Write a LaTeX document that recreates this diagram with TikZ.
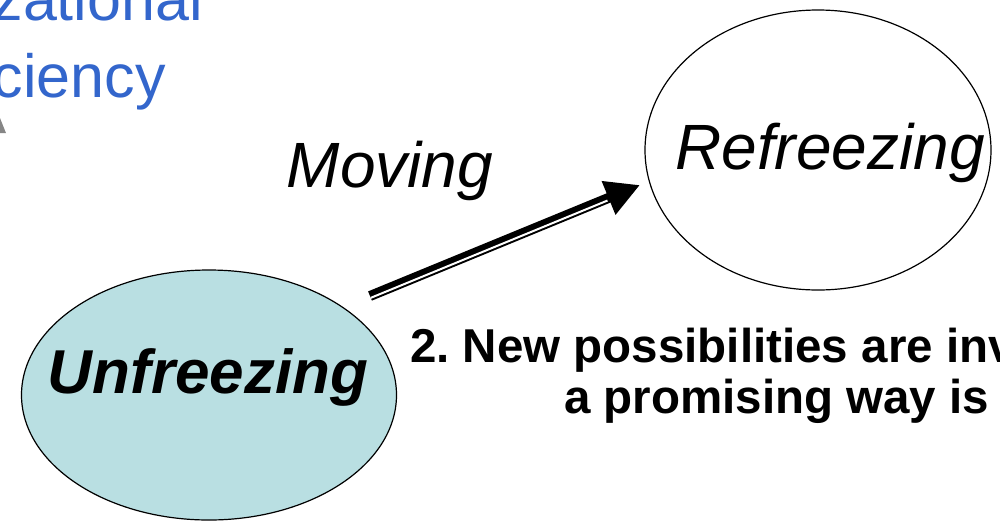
\documentclass[tikz,border=0pt]{standalone}
\usepackage{fontspec}
\setmainfont{Liberation Sans}
\usetikzlibrary{shapes.geometric,arrows.meta}
\definecolor{iceblue}{RGB}{185,223,226}
\definecolor{titleblue}{RGB}{51,102,204}
\tikzset{
  stage/.style={ellipse, draw=black, line width=1.2pt, inner sep=0pt},
  bigit/.style={font=\fontsize{64}{64}\selectfont\itshape, inner sep=0pt},
  bigbi/.style={font=\fontsize{62}{62}\selectfont\bfseries\itshape, inner sep=0pt},
  note/.style={font=\fontsize{47.5}{47.5}\selectfont\bfseries\frenchspacing, inner sep=0pt},
  title/.style={font=\fontsize{61}{61}\selectfont, text=titleblue, inner sep=0pt},
}
\begin{document}
\begin{tikzpicture}[x=1pt,y=-1pt]
\useasboundingbox (0,0) rectangle (1000,520);
\clip (0,0) rectangle (1000,520);
% title fragment
\node[title, anchor=base east] (t1) at (203,20) {zational};
\node[title, anchor=base east] (t2) at (166,97) {ciency};
\fill[gray!95] (0,118) -- (6,133) -- (0,133) -- cycle;
% stages
\node[stage, fill=iceblue, minimum width=375pt, minimum height=250pt] (U) at (209,395) {};
\node[bigbi, anchor=base] (Ut) at (208,393) {Unfreezing};
\node[stage, fill=white, minimum width=346pt, minimum height=280pt] (R) at (818,150) {};
\node[bigit, anchor=base] (Rt) at (830,169) {Refreezing};
\node[bigit, anchor=base] (M) at (390,187) {Moving};
% arrow
\coordinate (A) at (370,296);
\coordinate (B) at (640,185);
\draw[line width=10pt, -{Triangle[length=34pt,width=34pt]}] (A) -- (B);
\draw[white, line width=2pt, shorten >=36pt] ([shift={(0.76,1.85)}]A) -- ([shift={(0.76,1.85)}]B);
% note text
\node[note, anchor=base west] (n1) at (410,362) {2. New possibilities are inv};
\node[note, anchor=base west] (n2) at (564,413) {a promising way is};
\end{tikzpicture}
\end{document}
